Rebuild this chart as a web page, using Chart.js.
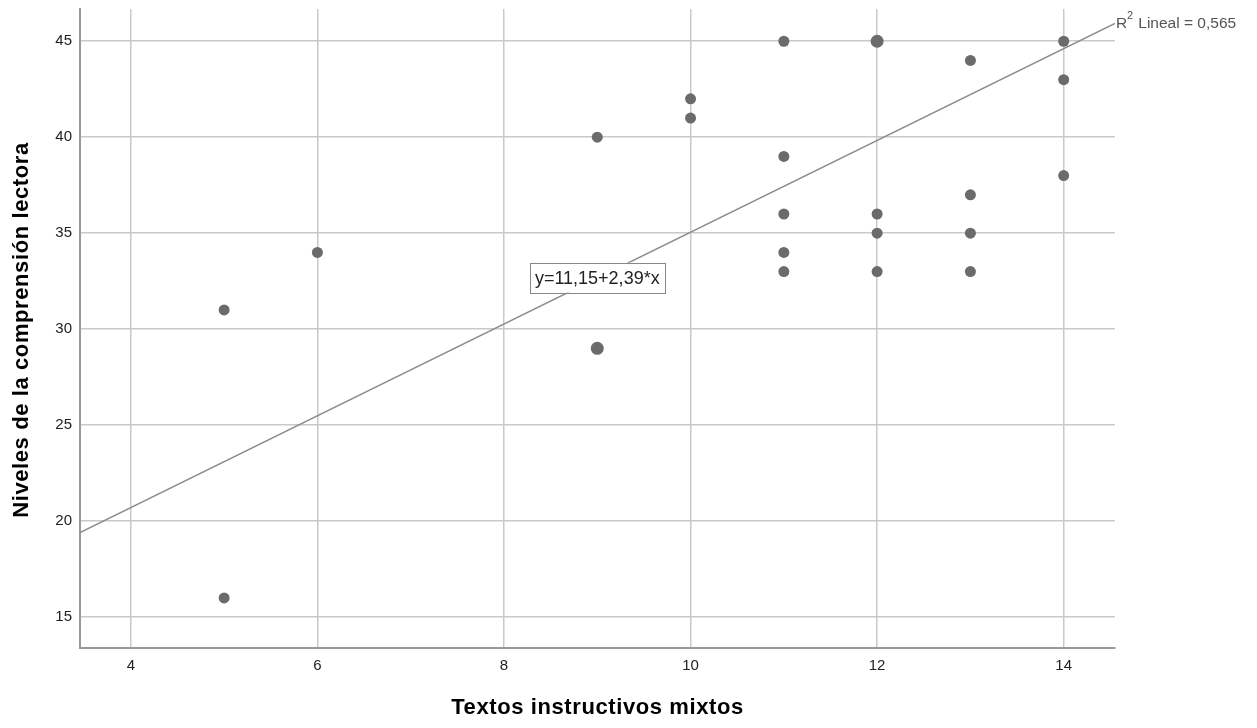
<!DOCTYPE html>
<html lang="es">
<head>
  <meta charset="UTF-8">
  <title>Textos instructivos mixtos vs comprensión lectora</title>
  <script src="https://cdn.jsdelivr.net/npm/chart.js"></script>
  <style>
    body { margin: 0; background: #fff; font-family: "Liberation Sans", Arial, sans-serif; }
    #wrap { width: 1257px; height: 728px; }
  </style>
</head>
<body>
  <div id="wrap"><canvas id="scatter" width="1257" height="728"></canvas></div>

  <script>
    // datos
    const textosX = [5, 5, 6, 9, 9, 10, 10, 11, 11, 11, 11, 11, 12, 12, 12, 12, 13, 13, 13, 13, 14, 14, 14];
    const nivelesY = [31, 16, 34, 40, 29, 42, 41, 45, 39, 36, 34, 33, 45, 36, 35, 33, 44, 37, 35, 33, 45, 43, 38];
    const repetidos = [1, 1, 1, 1, 2, 1, 1, 1, 1, 1, 1, 1, 2, 1, 1, 1, 1, 1, 1, 1, 1, 1, 1];

    const xTicks = [4, 6, 8, 10, 12, 14];
    const yTicks = [15, 20, 25, 30, 35, 40, 45];
    const xRange = [3.455, 14.55];
    const yRange = [13.39, 46.68];

    const intercepto = 11.15;
    const pendiente = 2.39;
    const r2 = '0,565';
    const ecuacion = 'y=11,15+2,39*x';
    const ecuacionPos = [9.0, 32.68];

    const tituloX = 'Textos instructivos mixtos';
    const tituloY = 'Niveles de la comprensión lectora';

    const FONT = '"Liberation Sans", Arial, sans-serif';

    const puntos = textosX.map((x, i) => ({ x: x, y: nivelesY[i] }));
    const recta = xRange.map(x => ({ x: x, y: intercepto + pendiente * x }));

    const extras = {
      id: 'extras',
      afterDraw(chart) {
        const ctx = chart.ctx;
        const xs = chart.scales.x, ys = chart.scales.y;
        const area = chart.chartArea;
        ctx.save();

        // titulos de ejes
        ctx.fillStyle = '#000';
        ctx.font = 'bold 22px ' + FONT;
        ctx.letterSpacing = '0.6px';
        ctx.textAlign = 'center';
        ctx.textBaseline = 'middle';
        ctx.fillText(tituloX, (area.left + area.right) / 2, 708);
        ctx.translate(22, 330);
        ctx.rotate(-Math.PI / 2);
        ctx.fillText(tituloY, 0, 0);
        ctx.setTransform(1, 0, 0, 1, 0, 0);
        ctx.letterSpacing = '0px';

        // etiqueta R2 al final de la recta
        const yEnd = ys.getPixelForValue(recta[1].y);
        ctx.fillStyle = '#555';
        ctx.textAlign = 'left';
        ctx.textBaseline = 'alphabetic';
        ctx.font = '11px ' + FONT;
        ctx.fillText('2', area.right + 12, yEnd - 5);
        ctx.font = '15.5px ' + FONT;
        ctx.fillText('R', area.right + 1, yEnd + 4);
        ctx.fillText(' Lineal = ' + r2, area.right + 19, yEnd + 4);

        // caja con la ecuación
        ctx.font = '18px ' + FONT;
        const cx = xs.getPixelForValue(ecuacionPos[0]);
        const cy = ys.getPixelForValue(ecuacionPos[1]);
        const w = ctx.measureText(ecuacion).width + 10;
        const h = 30;
        ctx.fillStyle = '#fff';
        ctx.fillRect(cx - w / 2, cy - h / 2, w, h);
        ctx.strokeStyle = '#888';
        ctx.lineWidth = 1;
        ctx.strokeRect(Math.round(cx - w / 2) + 0.5, Math.round(cy - h / 2) + 0.5, Math.round(w), h);
        ctx.fillStyle = '#222';
        ctx.textAlign = 'center';
        ctx.textBaseline = 'middle';
        ctx.fillText(ecuacion, cx, cy + 1);
        ctx.restore();
      }
    };

    new Chart(document.getElementById('scatter'), {
      type: 'scatter',
      data: {
        datasets: [
          {
            type: 'line',
            data: recta,
            borderColor: '#8c8c8c',
            borderWidth: 1.5,
            pointRadius: 0,
            fill: false,
            order: 2
          },
          {
            data: puntos,
            backgroundColor: '#6b6b6b',
            borderColor: '#6b6b6b',
            borderWidth: 0,
            pointRadius: repetidos.map(n => n > 1 ? 6.5 : 5.5),
            order: 1
          }
        ]
      },
      options: {
        responsive: false,
        animation: false,
        layout: { padding: { left: 0, top: 9, right: 142, bottom: 0 } },
        plugins: { legend: { display: false }, tooltip: { enabled: false } },
        scales: {
          x: {
            type: 'linear',
            min: xRange[0],
            max: xRange[1],
            afterBuildTicks: s => { s.ticks = xTicks.map(v => ({ value: v })); },
            afterFit: s => { s.height = 80; s.paddingLeft = 0; s.paddingRight = 0; },
            grid: { color: '#c9c9c9', lineWidth: 1.5, drawTicks: false },
            border: { display: true, color: '#999', width: 2 },
            ticks: { color: '#222', font: { family: FONT, size: 15 }, padding: 9 }
          },
          y: {
            type: 'linear',
            min: yRange[0],
            max: yRange[1],
            afterBuildTicks: s => { s.ticks = yTicks.map(v => ({ value: v })); },
            afterFit: s => { s.width = 80; s.paddingTop = 0; s.paddingBottom = 0; },
            grid: { color: '#c9c9c9', lineWidth: 1.5, drawTicks: false },
            border: { display: true, color: '#999', width: 2 },
            ticks: { color: '#222', font: { family: FONT, size: 15 }, padding: 8 }
          }
        }
      },
      plugins: [extras]
    });
  </script>
</body>
</html>
